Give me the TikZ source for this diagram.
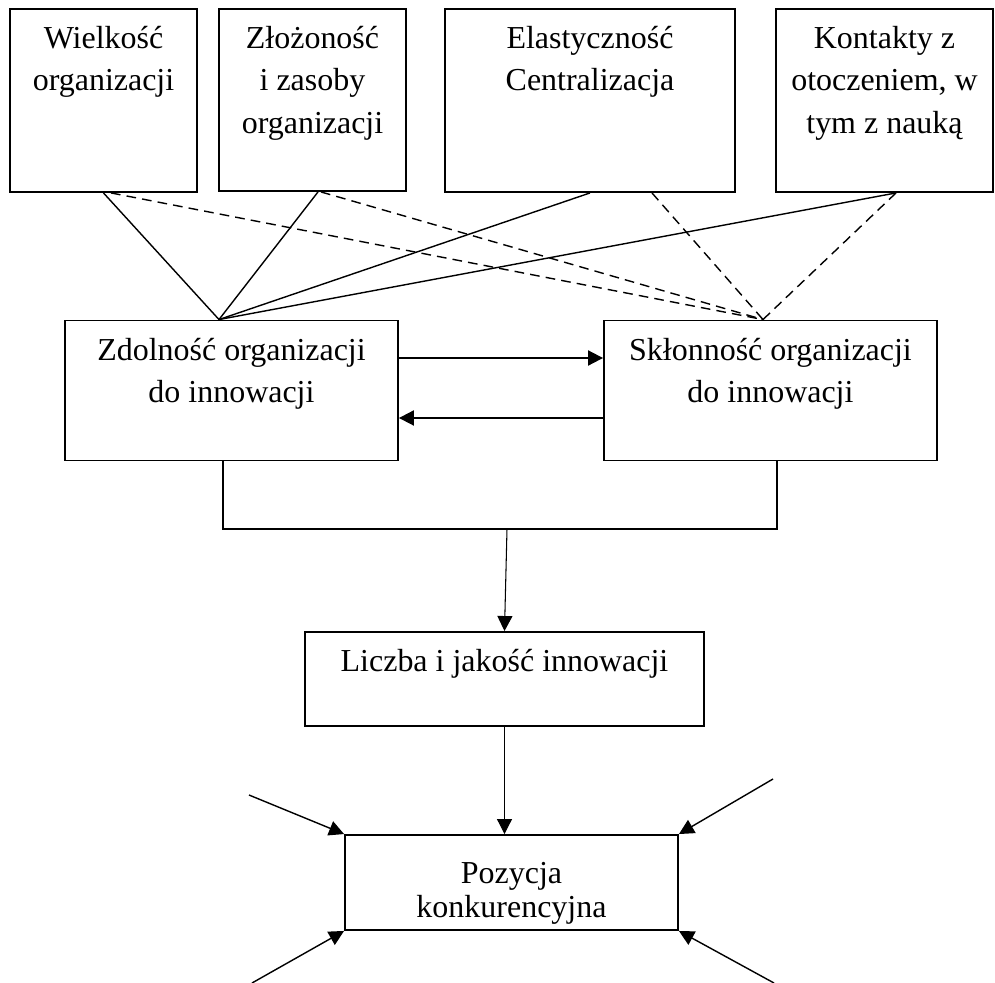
\documentclass[tikz,border=0pt]{standalone}
\usepackage{fontspec}
\setmainfont{Liberation Serif}
\usepackage{tikz}
\usetikzlibrary{arrows.meta}

\begin{document}
\begin{tikzpicture}[x=0.02cm, y=-0.02cm, >={Triangle[length=0.3cm, width=0.3cm]},
    box/.style={draw, line width=1.1pt, inner sep=0pt},
    txt/.style={anchor=north, align=center, inner sep=0pt, font=\fontsize{18.2}{24.2}\selectfont},
    link/.style={line width=0.8pt},
    hidden/.style={link, dash pattern=on 5.5pt off 3.5pt}]
    % Frame
    \useasboundingbox (0,0) rectangle (995,983);

    % Factor boxes (top row)
    \node[box, minimum width=3.74cm, minimum height=3.66cm] (wielk) at (103.5,100.5) {};
    \node[box, minimum width=3.74cm, minimum height=3.64cm] (zloz) at (312.5,100) {};
    \node[box, minimum width=5.8cm, minimum height=3.66cm] (elast) at (590,100.5) {};
    \node[box, minimum width=4.34cm, minimum height=3.66cm] (kont) at (884.5,100.5) {};

    \node[txt] (wielkT) at ([yshift=-0.35cm]wielk.north) {Wielkość\\organizacji};
    \node[txt] (zlozT) at ([yshift=-0.35cm]zloz.north) {Złożoność\\i zasoby\\organizacji};
    \node[txt] (elastT) at ([yshift=-0.35cm]elast.north) {Elastyczność\\Centralizacja};
    \node[txt] (kontT) at ([yshift=-0.35cm]kont.north) {Kontakty z\\otoczeniem, w\\tym z nauką};

    % Capability and propensity
    \node[box, minimum width=6.66cm, minimum height=2.8cm] (zdol) at (231.5,390.5) {};
    \node[box, minimum width=6.66cm, minimum height=2.8cm] (sklon) at (770.5,390.5) {};

    \node[txt] (zdolT) at ([yshift=-0.36cm]zdol.north) {Zdolność organizacji\\do innowacji};
    \node[txt] (sklonT) at ([yshift=-0.36cm]sklon.north) {Skłonność organizacji\\do innowacji};

    % Outcome boxes
    \node[box, minimum width=7.98cm, minimum height=1.88cm] (liczba) at (504.5,679) {};
    \node[box, minimum width=6.66cm, minimum height=1.9cm] (pozycja) at (511.5,882.5) {};

    \node[txt] (liczbaT) at ([yshift=-0.36cm]liczba.north) {Liczba i jakość innowacji};
    \node[txt, font=\fontsize{18.2}{19.4}\selectfont] (pozycjaT) at ([yshift=-0.56cm]pozycja.north) {Pozycja\\konkurencyjna};

    % Entry points
    \coordinate (zdolIn) at ([xshift=-0.25cm]zdol.north);
    \coordinate (sklonIn) at ([xshift=-0.15cm]sklon.north);

    % Solid links
    \draw[link] (wielk.south) -- (zdolIn);
    \draw[link] ([xshift=0.11cm]zloz.south) -- (zdolIn);
    \draw[link] (elast.south) -- (zdolIn);
    \draw[link] ([xshift=0.23cm]kont.south) -- (zdolIn);

    % Dashed links
    \draw[hidden] ([xshift=0.15cm]wielk.south) -- (sklonIn);
    \draw[hidden] ([xshift=0.17cm]zloz.south) -- (sklonIn);
    \draw[hidden] ([xshift=1.24cm]elast.south) -- (sklonIn);
    \draw[hidden] ([xshift=0.23cm]kont.south) -- (sklonIn);

    % Feedback between capability and propensity
    \draw[->, line width=1.1pt] ([yshift=0.65cm]zdol.east) -- ([yshift=0.65cm]sklon.west);
    \draw[->, line width=1.1pt] ([yshift=-0.55cm]sklon.west) -- ([yshift=-0.55cm]zdol.east);

    % Bracket
    \coordinate (join) at (507,529);
    \draw[line width=1.1pt] ([xshift=-0.17cm]zdol.south) |- (join) -| ([xshift=0.13cm]sklon.south);
    \draw[line width=1.7pt] ([xshift=-0.17cm]zdol.south |- join) -- ([xshift=0.13cm]sklon.south |- join);

    % Down arrows
    \draw[->, line width=0.6pt] (join) -- (liczba.north);
    \draw[->, line width=0.6pt] (liczba.south) -- (liczba.south |- pozycja.north);

    % Outside forces
    \coordinate (tl) at (249,795);
    \coordinate (tr) at (773,779);
    \coordinate (bl) at (252,983);
    \coordinate (br) at (774,983);
    \draw[->, link] (tl) -- (pozycja.north west);
    \draw[->, link] (tr) -- (pozycja.north east);
    \draw[->, link] (bl) -- (pozycja.south west);
    \draw[->, link] (br) -- (pozycja.south east);

\end{tikzpicture}
\end{document}
